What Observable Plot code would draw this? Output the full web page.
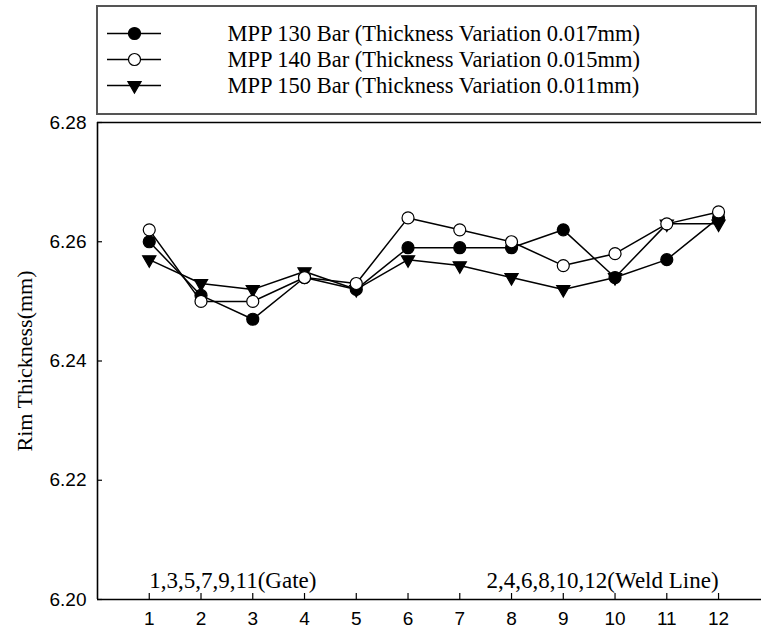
<!DOCTYPE html>
<html><head><meta charset="utf-8">
<script src="https://cdn.jsdelivr.net/npm/d3@7"></script>
<script src="https://cdn.jsdelivr.net/npm/@observablehq/plot@0.6"></script>
<style>
body{margin:0;background:#fff;}
#wrap{position:relative;width:761px;height:633px;overflow:hidden;}
#legend{position:absolute;left:96px;top:5px;width:657px;height:106px;border:2px solid #555;background:#fff;}
#legend svg, #chart svg{display:block;}
</style></head><body>
<div id="wrap"><div id="chart"></div><div id="legend"></div></div>
<script>
const points = [1, 2, 3, 4, 5, 6, 7, 8, 9, 10, 11, 12];
const mpp130 = [6.260, 6.251, 6.247, 6.254, 6.252, 6.259, 6.259, 6.259, 6.262, 6.254, 6.257, 6.264];
const mpp140 = [6.262, 6.250, 6.250, 6.254, 6.253, 6.264, 6.262, 6.260, 6.256, 6.258, 6.263, 6.265];
const mpp150 = [6.257, 6.253, 6.252, 6.255, 6.252, 6.257, 6.256, 6.254, 6.252, 6.254, 6.263, 6.263];
const seriesNames = [
  "MPP 130 Bar (Thickness Variation 0.017mm)",
  "MPP 140 Bar (Thickness Variation 0.015mm)",
  "MPP 150 Bar (Thickness Variation 0.011mm)"
];
const yTicks = [6.20, 6.22, 6.24, 6.26, 6.28];
const xTicks = points;
const xDomain = [0, 12.83];
const yDomain = [6.20, 6.28];
const yLabel = "Rim Thickness(mm)";
const noteGate = "1,3,5,7,9,11(Gate)";
const noteWeld = "2,4,6,8,10,12(Weld Line)";

const symbolStyles = [
  {symbol: "circle", fill: "black", r: 6, rotate: 0},
  {symbol: "circle", fill: "white", r: 6, rotate: 0},
  {symbol: "triangle", fill: "black", r: 4.9, rotate: 180}
];

const data = [];
[mpp130, mpp140, mpp150].forEach((vals, s) =>
  vals.forEach((v, i) => data.push({series: seriesNames[s], s, point: points[i], value: v}))
);

const serif = "Liberation Serif, Times New Roman, serif";
const sans = "Liberation Sans, Arial, sans-serif";

const chart = Plot.plot({
  width: 761,
  height: 633,
  marginTop: 122,
  marginBottom: 34,
  marginLeft: 97,
  marginRight: 0,
  style: {fontFamily: sans, background: "white", color: "black"},
  x: {domain: xDomain, axis: null},
  y: {domain: yDomain, axis: null},
  marks: [
    Plot.ruleX([xDomain[0]], {stroke: "black", strokeWidth: 1.6}),
    Plot.ruleY(yDomain, {stroke: "black", strokeWidth: 1.6}),
    Plot.axisY(yTicks, {tickSize: -5, tickPadding: 16, tickFormat: d3.format(".2f"), fontSize: 19, fontFamily: sans, label: null, strokeWidth: 1.2}),
    Plot.axisX(xTicks, {tickSize: -6, tickPadding: 18, tickFormat: d => String(d), fontSize: 19, fontFamily: sans, label: null, strokeWidth: 1.2}),
    Plot.line(data, {x: "point", y: "value", z: "series", stroke: "black", strokeWidth: 1.5}),
    ...[2, 0, 1].map(k => Plot.dot(data.filter(d => d.s === k), {
      x: "point", y: "value", symbol: symbolStyles[k].symbol, r: symbolStyles[k].r,
      fill: symbolStyles[k].fill, stroke: "black", strokeWidth: 1.2, rotate: symbolStyles[k].rotate
    })),
    Plot.text([noteGate], {x: points[0], y: 6.2032, text: d => d, textAnchor: "start", fontFamily: serif, fontSize: 23, fill: "black"}),
    Plot.text([noteWeld], {x: points[11], y: 6.2032, text: d => d, textAnchor: "end", fontFamily: serif, fontSize: 23, fill: "black"}),
    Plot.text([yLabel], {frameAnchor: "left", dx: -73, rotate: -90, text: d => d, textAnchor: "middle", fontFamily: serif, fontSize: 22, fill: "black"})
  ]
});
document.getElementById("chart").append(chart);

const legend = Plot.plot({
  width: 657,
  height: 106,
  margin: 0,
  style: {background: "white"},
  x: {domain: [0, 1], axis: null},
  y: {type: "point", domain: seriesNames, range: [26, 78], padding: 0, axis: null},
  marks: [
    Plot.ruleY(seriesNames, {y: d => d, stroke: "black", strokeWidth: 1.6, insetLeft: 9, insetRight: 594}),
    ...[0, 1, 2].map(k => Plot.dot([seriesNames[k]], {
      y: d => d, frameAnchor: "left", dx: 36, symbol: symbolStyles[k].symbol, r: symbolStyles[k].r,
      fill: symbolStyles[k].fill, stroke: "black", strokeWidth: 1.2, rotate: symbolStyles[k].rotate
    })),
    Plot.text(seriesNames, {y: d => d, text: d => d, frameAnchor: "left", dx: 129, textAnchor: "start", fontFamily: serif, fontSize: 22.5, fill: "black"})
  ]
});
document.getElementById("legend").append(legend);
</script>
</body></html>
